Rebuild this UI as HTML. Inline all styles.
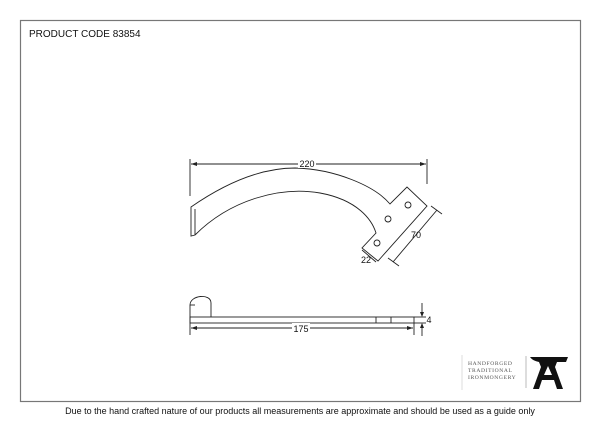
<!DOCTYPE html>
<html><head><meta charset="utf-8"><style>
html,body{margin:0;padding:0;background:#fff;width:600px;height:425px;overflow:hidden}
svg{display:block}
</style></head><body>
<svg width="600" height="425" viewBox="0 0 600 425" xmlns="http://www.w3.org/2000/svg" font-family="Liberation Sans, sans-serif">
<rect x="20.5" y="20.5" width="560" height="381" fill="none" stroke="#777" stroke-width="1.2"/>
<text x="29" y="37" font-size="10" fill="#111">PRODUCT CODE 83854</text>
<g fill="none" stroke="#222" stroke-width="0.9">
<path d="M191,207 C230,180 265,168 295,168 C335,169 375,186 390,204 L407,187 L427,206 L378,261 L362,248 L376,233 C372,220 358,200 320,193 C280,186 230,200 195,235 L191,236 Z"/>
<line x1="195" y1="209" x2="195" y2="235"/>
<circle cx="408" cy="205" r="3"/>
<circle cx="388" cy="219" r="3"/>
<circle cx="377" cy="243" r="3"/>
<line x1="190" y1="159" x2="190" y2="196"/>
<line x1="427" y1="159" x2="427" y2="184"/>
<line x1="191" y1="164" x2="426" y2="164"/>
<line x1="437" y1="210" x2="393" y2="262"/>
<line x1="431" y1="206" x2="442" y2="214"/>
<line x1="388" y1="258" x2="399" y2="266"/>
<line x1="362" y1="250" x2="376" y2="262"/>
<path d="M190,323 L190,305 C190,295 211,293 211,303 L211,317"/>
<line x1="190" y1="305" x2="195" y2="305"/>
<rect x="190" y="317" width="224" height="6"/>
<line x1="376" y1="317" x2="376" y2="323"/>
<line x1="391" y1="317" x2="391" y2="323"/>
<line x1="190" y1="323" x2="190" y2="335"/>
<line x1="414" y1="323" x2="414" y2="335"/>
<line x1="191" y1="328" x2="413" y2="328"/>
<line x1="414" y1="317" x2="426" y2="317"/>
<line x1="414" y1="323" x2="426" y2="323"/>
<line x1="422" y1="303" x2="422" y2="316"/>
<line x1="422" y1="324" x2="422" y2="336"/>
</g>
<g fill="#222">
<path d="M191,164 l6,-2 v4 z M426,164 l-6,-2 v4 z M191,328 l6,-2 v4 z M413,328 l-6,-2 v4 z M422,317 l-2,-5 h4 z M422,323 l-2,5 h4 z"/>
</g>
<g font-size="9" fill="#111" text-anchor="middle">
<rect x="298" y="158" width="18" height="10" fill="#fff"/>
<text x="307" y="167">220</text>
<rect x="292" y="323" width="18" height="10" fill="#fff"/>
<text x="301" y="332">175</text>
<text x="416" y="238">70</text>
<text x="366" y="263">22</text>
<text x="429" y="323">4</text>
</g>
<line x1="462" y1="355" x2="462" y2="390" stroke="#ddd"/>
<g font-family="Liberation Serif, serif" font-size="5.6" fill="#555" letter-spacing="0.6">
<text x="468" y="365">HANDFORGED</text>
<text x="468" y="372">TRADITIONAL</text>
<text x="468" y="379">IRONMONGERY</text>
</g>
<line x1="526" y1="356" x2="526" y2="388" stroke="#bbb"/>
<path d="M530,357 H568 L566,362 H557 L555,367 L563,389 H557 L554,380 H542 L539,389 H533 L541,367 L539,362 C535,361 532,360 530,357 Z M544,375 H552 L548,366 Z" fill="#111" fill-rule="evenodd"/>
<text x="300" y="414" font-size="9" fill="#111" text-anchor="middle">Due to the hand crafted nature of our products all measurements are approximate and should be used as a guide only</text>
</svg>
</body></html>
